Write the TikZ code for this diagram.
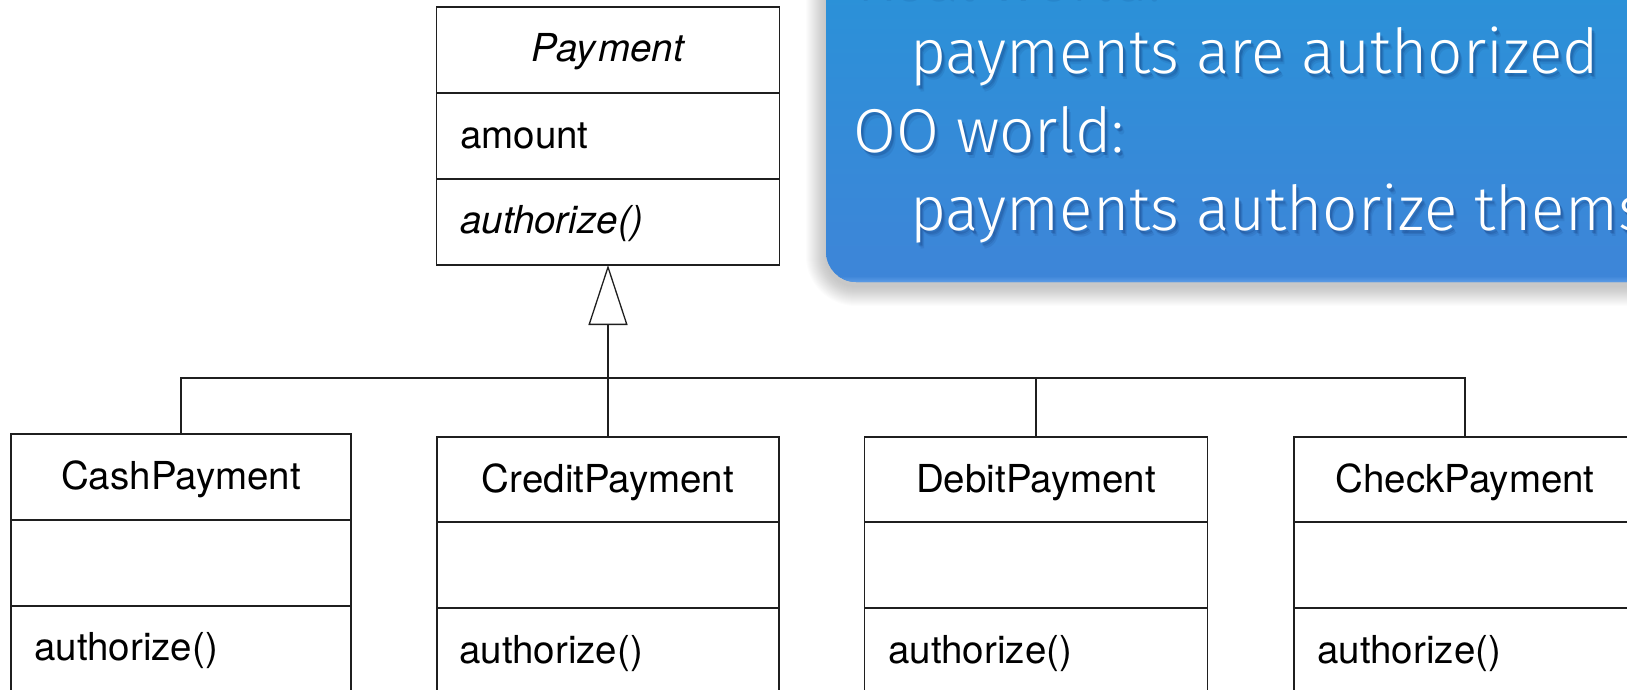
\documentclass[tikz,border=0pt]{standalone}
\usepackage{fontspec}
\setmainfont{TeX Gyre Heros}
\IfFontExistsTF{Fira Sans Light}
  {\newfontfamily\calloutfont{Fira Sans Light}}
  {\newfontfamily\calloutfont{Liberation Sans}}
\usetikzlibrary{arrows.meta}

\definecolor{umlline}{gray}{0.12}
\definecolor{calltop}{RGB}{38,148,216}
\definecolor{callbot}{RGB}{62,133,216}
\definecolor{callrim}{RGB}{92,156,230}
\definecolor{txtshadow}{RGB}{12,45,105}

% white callout text with a soft dark shadow underneath
\newcommand\calloutline[4]{% name, x, y, text
  \node[callshade, opacity=0.10] (#1-s1) at (#2+4,#3+6) {#4};
  \node[callshade, opacity=0.15] (#1-s2) at (#2+3,#3+4) {#4};
  \node[callshade, opacity=0.20] (#1-s3) at (#2+2,#3+3) {#4};
  \node[calltext] (#1) at (#2,#3) {#4};
}

\begin{document}
\begin{tikzpicture}[x=1pt,y=-1pt,
  classbox/.style={draw=umlline, line width=1.3pt, fill=white,
    inner sep=0pt, outer sep=0pt, minimum height=280pt},
  divider/.style={draw=umlline, line width=1.3pt},
  conn/.style={draw=umlline, line width=1.3pt},
  umlname/.style={font=\fontsize{38.5}{42}\selectfont, inner sep=0pt, anchor=base},
  umlitem/.style={font=\fontsize{38.5}{42}\selectfont, inner sep=0pt, anchor=base west},
  calltext/.style={font=\calloutfont\fontsize{62}{68}\selectfont, text=white,
    inner sep=0pt, anchor=base west},
  callshade/.style={font=\calloutfont\fontsize{62}{68}\selectfont, text=txtshadow,
    inner sep=0pt, anchor=base west},
]
\useasboundingbox (0,0) rectangle (1627,690);
\clip (0,0) rectangle (1627,690);

% ---------- callout ----------
\foreach \i in {1,...,20}{
  \fill[black, opacity=0.012, rounded corners=30+\i]
    (826-\i,-100) rectangle (1740,286+\i);
}
\shade[top color=calltop, bottom color=callbot, rounded corners=30]
  (826,-80) rectangle (1720,282);
\begin{scope}
  \clip[rounded corners=30] (826,-80) rectangle (1720,282);
  \shade[top color=callbot, bottom color=callrim] (800,276) rectangle (1740,282);
\end{scope}

\calloutline{real}{853}{-4}{Real world:}
\calloutline{line1}{910}{74}{payments are authorized}
\calloutline{oo}{853}{152}{OO world:}
\calloutline{line2}{910}{230}{payments authorize themselves}

% ---------- abstract class ----------
\node[classbox, minimum width=343pt, minimum height=258pt] (payment) at (608,136) {};
\draw[divider] (payment.west |- 0,93) -- (payment.east |- 0,93);
\draw[divider] (payment.west |- 0,179) -- (payment.east |- 0,179);
\node[umlname] (paymentname) at (608,62) {\itshape Pay\kern3pt ment};
\node[umlitem] (amount) at (460,148) {amount};
\node[umlitem] (pauth) at (460,233) {\itshape authorize()};

% ---------- subclasses ----------
\node[classbox, minimum width=340pt] (cash) at (181,574) {};
\node[classbox, minimum width=342pt] (credit) at (608,577) {};
\node[classbox, minimum width=343pt] (debit) at (1036,577) {};
\node[classbox, minimum width=342pt] (check) at (1465,577) {};

\draw[divider] (cash.west |- 0,520) -- (cash.east |- 0,520);
\draw[divider] (cash.west |- 0,606) -- (cash.east |- 0,606);
\foreach \c in {credit,debit,check}{
  \draw[divider] (\c.west |- 0,522) -- (\c.east |- 0,522);
  \draw[divider] (\c.west |- 0,608) -- (\c.east |- 0,608);
}

\node[umlname] (cashname) at (181,489) {CashPayment};
\node[umlitem] (cashauth) at (34,660) {authorize()};
\node[umlname] (creditname) at (608,492) {CreditPayment};
\node[umlitem] (creditauth) at (459,663) {authorize()};
\node[umlname] (debitname) at (1036,492) {DebitPayment};
\node[umlitem] (debitauth) at (888,663) {authorize()};
\node[umlname] (checkname) at (1465,492) {CheckPayment};
\node[umlitem] (checkauth) at (1317,663) {authorize()};

% ---------- generalisation ----------
\coordinate (bus) at (608,378);
\draw[conn] (cash.north) -- (cash.north |- bus) -- (check.north |- bus) -- (check.north);
\draw[conn] (debit.north) -- (debit.north |- bus);
\draw[conn, -{Triangle[open, length=60pt, width=39pt]}] (credit.north) -- (payment.south);
\end{tikzpicture}
\end{document}
